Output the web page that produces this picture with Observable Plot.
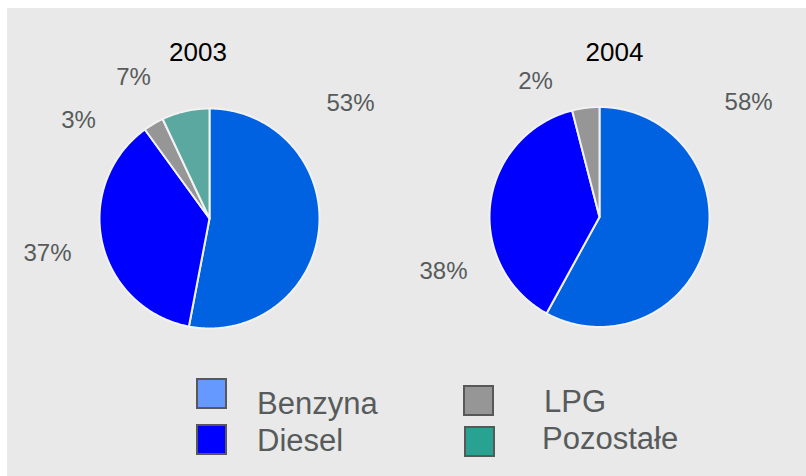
<!DOCTYPE html>
<html>
<head>
<meta charset="utf-8">
<script src="https://cdn.jsdelivr.net/npm/d3@7"></script>
<script src="https://cdn.jsdelivr.net/npm/@observablehq/plot@0.6"></script>
<style>
  html, body { margin: 0; padding: 0; background: #ffffff; }
  body { width: 806px; height: 476px; position: relative; overflow: hidden; font-family: "Liberation Sans", Arial, sans-serif; }
  #panel { position: absolute; left: 7px; top: 8px; width: 799px; height: 468px; background: #e9e9e9; }
  #chart { position: absolute; left: 0; top: 0; }
  .sw { position: absolute; width: 31px; height: 31px; box-sizing: border-box; border: 2px solid #585858; }
  .lt { position: absolute; font-size: 31px; line-height: 31px; color: #575b5b; white-space: nowrap; }
</style>
</head>
<body>
<div id="panel">
  <div id="chart"></div>
  <div id="legend"></div>
</div>
<script>
// ---- data ----
const years = ["2003", "2004"];
const categories = ["Benzyna", "Diesel", "LPG", "Pozostałe"];
const share2003 = [53, 37, 3, 7];
const share2004 = [58, 38, 4, 0];
const labels2003 = ["53%", "37%", "3%", "7%"];
const labels2004 = ["58%", "38%", "2%", ""];

// ---- styles / layout ----
const pieColors = ["#0062e0", "#0000ff", "#969696", "#5aa8a0"];
const legendColors = ["#6699ff", "#0000ff", "#969696", "#29a391"];
const W = 799, H = 352, R = 110;           // pixel size of svg, pie radius in px
const centersPx = [[202, 210], [592, 208.5]];
// label offsets from each pie centre, in pie radii (x right, y up)
const labelOffsets = [
  [[1.282, 1.05], [-1.473, -0.314], [-1.191, 0.895], [-0.691, 1.286]],
  [[1.355, 1.045], [-1.418, -0.491], [-0.582, 1.236], [0, 0]]
];
const titleOffsets = [[-0.105, 1.505], [0.136, 1.495]];

// centres in data units (1 unit = radius)
const centers = centersPx.map(([px, py]) => [(px - centersPx[0][0]) / R, (centersPx[0][1] - py) / R]);
const xDomain = [-centersPx[0][0] / R, (W - centersPx[0][0]) / R];
const yDomain = [(centersPx[0][1] - H) / R, centersPx[0][1] / R];

const shares = [share2003, share2004];
const labelTexts = [labels2003, labels2004];

// slice polygons
const slicePts = [];
const labelRows = [];
const titleRows = [];
shares.forEach((vals, p) => {
  const [cx, cy] = centers[p];
  const arcs = d3.pie().sort(null).value(d => d)(vals);
  arcs.forEach((a, i) => {
    if (a.endAngle - a.startAngle <= 0) return;
    const id = years[p] + "-" + categories[i];
    slicePts.push({id, cat: categories[i], x: cx, y: cy});
    const n = Math.max(2, Math.ceil((a.endAngle - a.startAngle) / (Math.PI / 360)));
    for (let k = 0; k <= n; k++) {
      const t = a.startAngle + (a.endAngle - a.startAngle) * k / n;
      slicePts.push({id, cat: categories[i], x: cx + Math.sin(t), y: cy + Math.cos(t)});
    }
    slicePts.push({id, cat: categories[i], x: cx, y: cy});
    if (labelTexts[p][i]) {
      const [ox, oy] = labelOffsets[p][i];
      labelRows.push({x: cx + ox, y: cy + oy, text: labelTexts[p][i]});
    }
  });
  titleRows.push({x: cx + titleOffsets[p][0], y: cy + titleOffsets[p][1], text: years[p]});
});

const chart = Plot.plot({
  width: W,
  height: H,
  margin: 0,
  style: {background: "transparent", fontFamily: "'Liberation Sans', Arial, sans-serif"},
  x: {domain: xDomain, range: [0, W], axis: null},
  y: {domain: yDomain, range: [H, 0], axis: null},
  color: {domain: categories, range: pieColors},
  marks: [
    Plot.line(slicePts, {x: "x", y: "y", z: "id", fill: "cat", stroke: "#f2f2f2", strokeWidth: 2, strokeLinejoin: "round"}),
    Plot.text(labelRows, {x: "x", y: "y", text: "text", fontSize: 24, fill: "#575b5b", textAnchor: "middle", lineAnchor: "middle"}),
    Plot.text(titleRows, {x: "x", y: "y", text: "text", fontSize: 26, fill: "#000000", textAnchor: "middle", lineAnchor: "middle"})
  ]
});
document.getElementById("chart").appendChild(chart);

// legend (HTML, below the svg)
const legendPos = [
  {sw: [189, 370], tx: [250, 380]},
  {sw: [189, 416], tx: [250, 417]},
  {sw: [456, 377], tx: [537, 378]},
  {sw: [457, 418], tx: [535, 415]}
];
const leg = document.getElementById("legend");
categories.forEach((c, i) => {
  const s = document.createElement("div");
  s.className = "sw";
  s.style.left = legendPos[i].sw[0] + "px";
  s.style.top = legendPos[i].sw[1] + "px";
  s.style.background = legendColors[i];
  leg.appendChild(s);
  const t = document.createElement("div");
  t.className = "lt";
  t.style.left = legendPos[i].tx[0] + "px";
  t.style.top = legendPos[i].tx[1] + "px";
  t.textContent = c;
  leg.appendChild(t);
});
</script>
</body>
</html>
